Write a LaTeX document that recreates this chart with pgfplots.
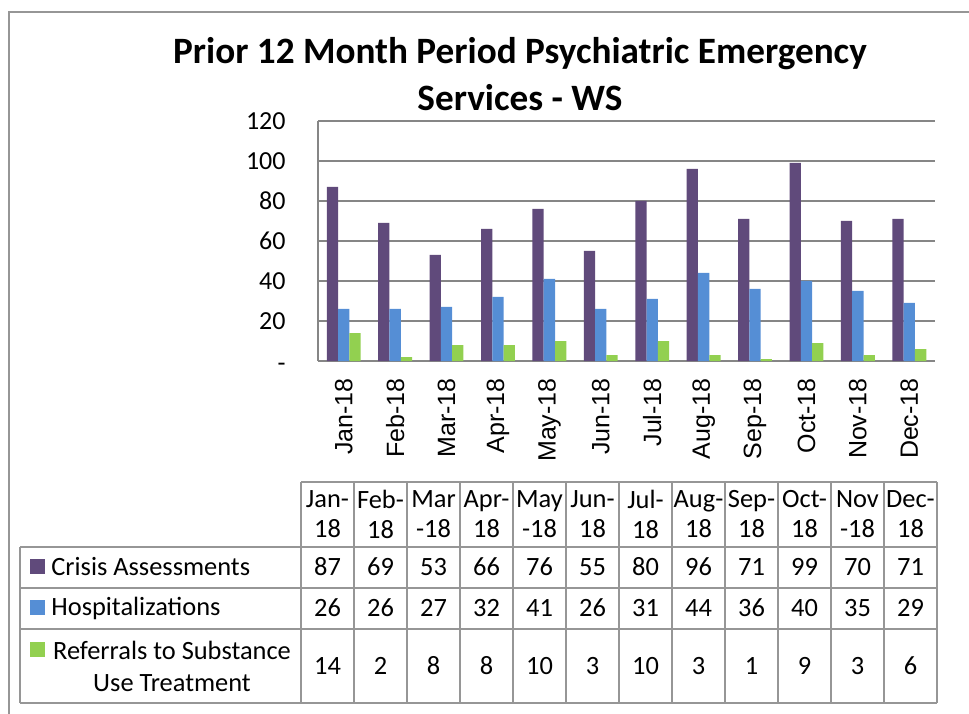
\documentclass[border=0pt]{standalone}
\usepackage{fontspec}
\setmainfont{Carlito}
\newfontfamily\arialfont{Liberation Sans}
\usepackage{pgfplots}
\usepackage{pgfplotstable}
\pgfplotsset{compat=1.18}

\definecolor{crisis}{RGB}{96,74,123}
\definecolor{hosp}{RGB}{85,142,213}
\definecolor{refr}{RGB}{146,208,80}
\definecolor{gridc}{RGB}{134,134,134}
\definecolor{tablec}{RGB}{150,150,150}

\pgfplotstableread{
month  crisis hosp ref
Jan-18 87 26 14
Feb-18 69 26 2
Mar-18 53 27 8
Apr-18 66 32 8
May-18 76 41 10
Jun-18 55 26 3
Jul-18 80 31 10
Aug-18 96 44 3
Sep-18 71 36 1
Oct-18 99 40 9
Nov-18 70 35 3
Dec-18 71 29 6
}\data

\newcommand\tabfont{\fontsize{13.2}{16}\selectfont}

\begin{document}
\begin{tikzpicture}[x=0.5pt,y=0.5pt]
\useasboundingbox (0,0) rectangle (969,713);
% outer chart frame (cut at the right and bottom)
\draw[tablec, line width=0.8pt] (9,-5) -- (9,713-12) -- (980,713-12);

% title
\node[font=\fontsize{18.6}{23.5}\selectfont\bfseries, align=center] at (520,713-74)
  {Prior 12 Month Period Psychiatric Emergency\\Services - WS};

\coordinate (plotorigin) at (318,713-361);
\begin{axis}[
  at={(plotorigin)}, anchor=south west,
  scale only axis, width=308.5pt, height=120pt,
  xmin=-0.5, xmax=11.5, ymin=0, ymax=120,
  ybar=0pt, bar width=5.65pt,
  axis x line*=bottom, axis y line*=left,
  axis line style={gridc, line width=0.7pt, -},
  ymajorgrids, major grid style={gridc, line width=0.7pt},
  ytick={0,20,...,120},
  yticklabels={\smash{\raisebox{-5pt}{-}},20,40,60,80,100,120},
  xtick={0,...,11}, xticklabels from table={\data}{month},
  major tick length=0pt,
  tick label style={inner sep=0pt},
  yticklabel style={font=\fontsize{13}{13}\selectfont, anchor=east},
  yticklabel shift=16pt,
  xticklabel style={font=\arialfont\fontsize{12.5}{12.5}\selectfont, rotate=90, anchor=east},
  xticklabel shift=8.5pt,
  enlargelimits=false, clip=false,
]
  \addplot[fill=crisis, draw=none] table[x expr=\coordindex, y=crisis]{\data};
  \addplot[fill=hosp, draw=none] table[x expr=\coordindex, y=hosp]{\data};
  \addplot[fill=refr, draw=none] table[x expr=\coordindex, y=ref]{\data};
\end{axis}

% data table
\begin{scope}[tablec, line width=0.6pt]
  \draw (301,713-482) -- (937,713-482);
  \foreach \yy in {547,588,629,703} \draw (20,713-\yy) -- (937,713-\yy);
  \draw (20,713-547) -- (20,713-703);
  \foreach \i in {0,...,12} \draw ({301+53*\i},713-482) -- ({301+53*\i},713-703);
\end{scope}

\foreach \h [count=\i from 0] in {Jan-\\18,Feb-\\18,Mar\\-18,Apr-\\18,May\\-18,Jun-\\18,
    Jul-\\18,Aug-\\18,Sep-\\18,Oct-\\18,Nov\\-18,Dec-\\18}
  \node[font=\fontsize{13.2}{15}\selectfont, align=center, inner sep=0pt] at ({327.5+53*\i},713-514) {\h};

\foreach \i in {0,...,11} {
  \pgfplotstablegetelem{\i}{crisis}\of\data
  \node[font=\tabfont] at ({327.5+53*\i},713-567) {\pgfplotsretval};
  \pgfplotstablegetelem{\i}{hosp}\of\data
  \node[font=\tabfont] at ({327.5+53*\i},713-608) {\pgfplotsretval};
  \pgfplotstablegetelem{\i}{ref}\of\data
  \node[font=\tabfont] at ({327.5+53*\i},713-666) {\pgfplotsretval};
}

% row labels
\fill[crisis] (30,713-559) rectangle (45,713-574);
\fill[hosp]   (30,713-600) rectangle (45,713-615);
\fill[refr]   (30,713-642) rectangle (45,713-657);
\node[font=\tabfont, anchor=west, inner sep=0pt] at (51,713-567) {Crisis Assessments};
\node[font=\tabfont, anchor=west, inner sep=0pt] at (51,713-608) {Hospitalizations};
\node[font=\tabfont, align=center, inner sep=0pt] at (172,713-666) {Referrals to Substance\\Use Treatment};
\end{tikzpicture}
\end{document}
